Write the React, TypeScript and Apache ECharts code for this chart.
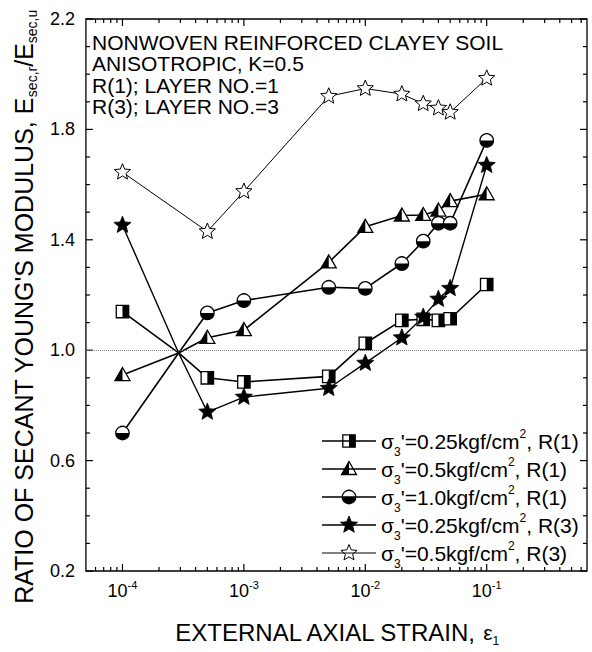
import React, { useEffect, useRef } from 'react';
import * as echarts from 'echarts';

// ---------------- data ----------------
const strain = [1e-4, 5e-4, 1e-3, 5e-3, 1e-2, 2e-2, 3e-2, 4e-2, 5e-2, 1e-1];
// unmarked common crossing point of four curves
const crossStrain = 2.9e-4;
const crossRatio = 0.99;

const ratioSq025R1 = [1.14, 0.9, 0.885, 0.905, 1.025, 1.108, 1.112, 1.108, 1.114, 1.238];
const ratioTri05R1 = [0.91, 1.045, 1.073, 1.318, 1.447, 1.488, 1.49, 1.506, 1.54, 1.565];
const ratioCir10R1 = [0.7, 1.135, 1.18, 1.228, 1.224, 1.314, 1.395, 1.46, 1.46, 1.76];
const ratioStar025R3 = [1.453, 0.776, 0.83, 0.862, 0.953, 1.045, 1.12, 1.185, 1.224, 1.67];
const ratioOStar05R3 = [1.645, 1.43, 1.575, 1.92, 1.948, 1.928, 1.893, 1.877, 1.862, 1.985];

const xMajorTicks = [1e-4, 1e-3, 1e-2, 1e-1];
const xTickExponents = ['-4', '-3', '-2', '-1'];
const xMinorTicks = [
  6e-5, 7e-5, 8e-5, 9e-5,
  2e-4, 3e-4, 4e-4, 5e-4, 6e-4, 7e-4, 8e-4, 9e-4,
  2e-3, 3e-3, 4e-3, 5e-3, 6e-3, 7e-3, 8e-3, 9e-3,
  2e-2, 3e-2, 4e-2, 5e-2, 6e-2, 7e-2, 8e-2, 9e-2,
  0.2, 0.3, 0.4, 0.5, 0.6,
];
const yMajorTicks = [0.2, 0.6, 1.0, 1.4, 1.8, 2.2];
const yMinorTicks = [0.3, 0.4, 0.5, 0.7, 0.8, 0.9, 1.1, 1.2, 1.3, 1.5, 1.6, 1.7, 1.9, 2.0, 2.1];

const stressLabels = ['0.25', '0.5', '1.0', '0.25', '0.5'];
const layerLabels = ['1', '1', '1', '3', '3'];
const annotationLines = [
  'NONWOVEN REINFORCED CLAYEY SOIL',
  'ANISOTROPIC, K=0.5',
  'R(1); LAYER NO.=1',
  'R(3); LAYER NO.=3',
];

const X_MIN = 5e-5;
const X_MAX = 0.67;
const Y_MIN = 0.2;
const Y_MAX = 2.2;

// ---------------- styling ----------------
const FONT = '"Liberation Sans", Arial, Helvetica, sans-serif';
const K = '#000';
const MAJOR_LEN = 7;
const MINOR_LEN = 4;

const seriesDefs = [
  { values: ratioSq025R1, marker: 'sq', cross: true, width: 1.6 },
  { values: ratioTri05R1, marker: 'tri', cross: true, width: 1.6 },
  { values: ratioCir10R1, marker: 'cir', cross: true, width: 1.6 },
  { values: ratioStar025R3, marker: 'star', cross: true, width: 1.4 },
  { values: ratioOStar05R3, marker: 'ostar', cross: false, width: 1.0 },
];

function starPoints(cx: number, cy: number, R: number, r: number) {
  const pts: number[][] = [];
  for (let i = 0; i < 10; i++) {
    const a = -Math.PI / 2 + (i * Math.PI) / 5;
    const rad = i % 2 === 0 ? R : r;
    pts.push([cx + rad * Math.cos(a), cy + rad * Math.sin(a)]);
  }
  return pts;
}

function markerEls(kind: string, cx: number, cy: number): any[] {
  if (kind === 'sq') {
    const h = 6.2;
    return [
      { type: 'rect', shape: { x: cx - h, y: cy - h, width: 2 * h, height: 2 * h }, style: { fill: '#fff' } },
      { type: 'rect', shape: { x: cx, y: cy - h, width: h, height: 2 * h }, style: { fill: K } },
      { type: 'rect', shape: { x: cx - h, y: cy - h, width: 2 * h, height: 2 * h }, style: { fill: 'none', stroke: K, lineWidth: 1.3 } },
    ];
  }
  if (kind === 'tri') {
    const w = 7.5, top = cy - 7.5, bot = cy + 5.5;
    const full = [[cx, top], [cx - w, bot], [cx + w, bot]];
    return [
      { type: 'polygon', shape: { points: full }, style: { fill: '#fff' } },
      { type: 'polygon', shape: { points: [[cx, top], [cx - w, bot], [cx, bot]] }, style: { fill: K } },
      { type: 'polygon', shape: { points: full }, style: { fill: 'none', stroke: K, lineWidth: 1.3 } },
    ];
  }
  if (kind === 'cir') {
    const r = 6.7;
    return [
      { type: 'circle', shape: { cx, cy, r }, style: { fill: '#fff' } },
      { type: 'sector', shape: { cx, cy, r, r0: 0, startAngle: 0, endAngle: Math.PI }, style: { fill: K } },
      { type: 'circle', shape: { cx, cy, r }, style: { fill: 'none', stroke: K, lineWidth: 1.3 } },
    ];
  }
  if (kind === 'star') {
    return [{ type: 'polygon', shape: { points: starPoints(cx, cy, 9, 4) }, style: { fill: K, stroke: K, lineWidth: 0.8 } }];
  }
  return [{ type: 'polygon', shape: { points: starPoints(cx, cy, 8.5, 3.8) }, style: { fill: '#fff', stroke: K, lineWidth: 1 } }];
}

function lineData(values: number[], cross: boolean) {
  const pts = strain.map((x, i) => [x, values[i]]);
  if (cross) pts.splice(1, 0, [crossStrain, crossRatio]);
  return pts;
}

const legendRich = {
  m: { fontSize: 21, lineHeight: 22, fontFamily: FONT, color: K },
  sub: { fontSize: 12, lineHeight: 12, padding: [21, 0, 0, 0], fontFamily: FONT, color: K },
  sup: { fontSize: 12, lineHeight: 12, padding: [0, 0, 15, 0], fontFamily: FONT, color: K },
};

function legendText(i: number) {
  return `{m|σ}{sub|3}{m|'=${stressLabels[i]}kgf/cm}{sup|2}{m|, R(${layerLabels[i]})}`;
}

export default function App() {
  const ref = useRef<HTMLDivElement>(null);
  useEffect(() => {
    document.body.style.margin = '0';
    const chart = echarts.init(ref.current!, undefined, { renderer: 'svg' });

    const tickStyle = { stroke: K, lineWidth: 1.2 };

    const xAxis: any = {
      type: 'log', logBase: 10, min: X_MIN, max: X_MAX, position: 'bottom',
      splitLine: { show: false },
      axisLine: { show: false },
      axisTick: { show: false },
      axisLabel: {
        show: true, customValues: xMajorTicks, margin: 10, color: K,
        formatter: (v: number) => {
          let best = 0;
          xMajorTicks.forEach((t, i) => {
            if (Math.abs(Math.log10(t) - Math.log10(v)) < Math.abs(Math.log10(xMajorTicks[best]) - Math.log10(v))) best = i;
          });
          return `{b|10}{s|${xTickExponents[best]}}`;
        },
        rich: {
          b: { fontSize: 18, lineHeight: 20, fontFamily: FONT, color: K },
          s: { fontSize: 11, lineHeight: 11, padding: [0, 0, 12, 0], fontFamily: FONT, color: K },
        },
      },
      name: '{m|EXTERNAL AXIAL STRAIN, }{e|ε}{sub|1}',
      nameLocation: 'middle',
      nameGap: 48,
      nameTextStyle: {
        rich: {
          m: { fontSize: 24, lineHeight: 26, fontFamily: FONT, color: K },
          e: { fontSize: 21, lineHeight: 26, fontFamily: FONT, color: K },
          sub: { fontSize: 12, lineHeight: 12, padding: [18, 0, 0, 0], fontFamily: FONT, color: K },
        },
      },
    };

    const yAxis: any = {
      type: 'value', min: Y_MIN, max: Y_MAX, position: 'left',
      splitLine: { show: false },
      axisLine: { show: false },
      axisTick: { show: false },
      axisLabel: {
        show: true, customValues: yMajorTicks, margin: 11, color: K, fontSize: 18, fontFamily: FONT,
        formatter: (v: number) => v.toFixed(1),
      },
      name: "{m|RATIO OF SECANT YOUNG'S MODULUS, E}{sub|sec,r}{m|/E}{sub|sec,u}",
      nameLocation: 'middle',
      nameRotate: 90,
      nameGap: 41,
      nameTextStyle: {
        padding: [0, 24, 0, 0],
        rich: {
          m: { fontSize: 25, lineHeight: 26, fontFamily: FONT, color: K },
          sub: { fontSize: 14, lineHeight: 14, padding: [17, 0, 0, 0], fontFamily: FONT, color: K },
        },
      },
    };

    const lineSeries = seriesDefs.map((d, i) => ({
      type: 'line',
      data: lineData(d.values, d.cross),
      symbol: 'none',
      silent: true,
      z: 2,
      lineStyle: { color: K, width: d.width },
      markLine: i === 0 ? {
        silent: true,
        symbol: ['none', 'none'],
        label: { show: false },
        lineStyle: { type: 'dotted', color: '#777', width: 1 },
        data: [{ yAxis: 1.0 }],
      } : undefined,
    }));

    const markerSeries = seriesDefs.map((d) => ({
      type: 'custom',
      data: strain.map((x, i) => [x, d.values[i]]),
      encode: { x: 0, y: 1 },
      silent: true,
      z: 5,
      clip: false,
      renderItem: (params: any, api: any) => {
        const p = api.coord([api.value(0), api.value(1)]);
        return { type: 'group', children: markerEls(d.marker, p[0], p[1]) };
      },
    }));

    // inward tick marks on all four sides, positioned through the axes' scales
    const xTickSeries = {
      type: 'custom',
      data: [
        ...xMajorTicks.map((v) => [v, Y_MIN, MAJOR_LEN]),
        ...xMinorTicks.map((v) => [v, Y_MIN, MINOR_LEN]),
      ],
      encode: { x: 0, y: 1 },
      silent: true, clip: false, z: 4,
      renderItem: (params: any, api: any) => {
        const v = api.value(0), len = api.value(2);
        const b = api.coord([v, Y_MIN]);
        const t = api.coord([v, Y_MAX]);
        return {
          type: 'group', children: [
            { type: 'line', shape: { x1: b[0], y1: b[1], x2: b[0], y2: b[1] - len }, style: tickStyle },
            { type: 'line', shape: { x1: t[0], y1: t[1], x2: t[0], y2: t[1] + len }, style: tickStyle },
          ],
        };
      },
    };
    const yTickSeries = {
      type: 'custom',
      data: [
        ...yMajorTicks.map((v) => [X_MIN, v, MAJOR_LEN]),
        ...yMinorTicks.map((v) => [X_MIN, v, MINOR_LEN]),
      ],
      encode: { x: 0, y: 1 },
      silent: true, clip: false, z: 4,
      renderItem: (params: any, api: any) => {
        const v = api.value(1), len = api.value(2);
        const l = api.coord([X_MIN, v]);
        const r = api.coord([X_MAX, v]);
        return {
          type: 'group', children: [
            { type: 'line', shape: { x1: l[0], y1: l[1], x2: l[0] + len, y2: l[1] }, style: tickStyle },
            { type: 'line', shape: { x1: r[0], y1: r[1], x2: r[0] - len, y2: r[1] }, style: tickStyle },
          ],
        };
      },
    };

    // legend drawn as graphics
    const legendRowsY = [441, 469, 497, 525, 553];
    const legendEls: any[] = [];
    seriesDefs.forEach((d, i) => {
      const y = legendRowsY[i];
      legendEls.push({ type: 'line', shape: { x1: 322, y1: y, x2: 376, y2: y }, style: { stroke: K, lineWidth: d.width }, z: 100 });
      legendEls.push({ type: 'group', children: markerEls(d.marker, 349, y), z: 101 });
      legendEls.push({
        type: 'text', x: 381, y, z: 101,
        style: { text: legendText(i), rich: legendRich, verticalAlign: 'middle', align: 'left', fill: K },
      });
    });

    // annotation block, one text per line
    const annotationEls = annotationLines.map((t, i) => ({
      type: 'text', x: 92, y: 42 + i * 21.5, z: 100,
      style: { text: t, fontSize: 21, fontFamily: FONT, fill: K, verticalAlign: 'middle', align: 'left' },
    }));

    chart.setOption({
      animation: false,
      grid: { left: 79, right: 5, top: 19, bottom: 67, containLabel: false, show: true, borderColor: K, borderWidth: 1.3, backgroundColor: 'transparent' },
      xAxis,
      yAxis,
      series: [...lineSeries, ...markerSeries, xTickSeries, yTickSeries],
      graphic: [...annotationEls, ...legendEls],
    });
    return () => chart.dispose();
  }, []);
  return <div ref={ref} style={{ width: 592, height: 652 }} />;
}
